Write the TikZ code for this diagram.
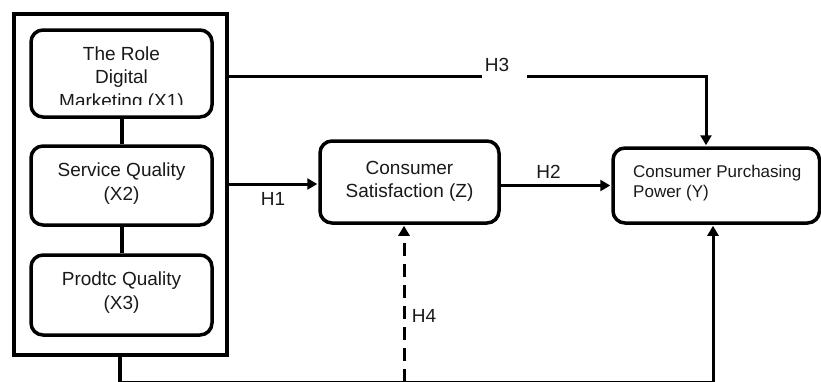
\documentclass[tikz,border=0pt]{standalone}
\usepackage{fontspec}
\setmainfont{Liberation Sans}
\usetikzlibrary{arrows.meta}
\begin{document}
\begin{tikzpicture}[x=1pt,y=-1pt,
  box/.style={draw, line width=3.5pt, rounded corners=12pt, inner sep=0pt},
  grpbox/.style={draw, line width=4pt, inner sep=0pt},
  txt/.style={font=\fontsize{19}{23.5}\selectfont, align=center, inner sep=0pt, text=black!90},
  ytxt/.style={font=\fontsize{17}{20}\selectfont, align=left, inner sep=0pt, anchor=west, text=black!90},
  hlab/.style={font=\fontsize{19}{23}\selectfont, inner sep=0pt, text=black!90},
  conn/.style={line width=3pt},
  thickconn/.style={line width=4pt},
  arr/.style={conn, -{Triangle[length=10pt,width=11pt]}, shorten >=1pt},
  darr/.style={arr, dash pattern=on 13pt off 8pt}
]
\useasboundingbox (0,0) rectangle (821,381);

% group box and inner boxes
\node[grpbox, minimum width=213pt, minimum height=341pt] (grp) at (120.5,184.5) {};
\node[box, minimum width=181pt, minimum height=87pt] (x1) at (121.5,73.5) {};
\node[box, minimum width=181pt, minimum height=79pt] (x2) at (121.5,185.5) {};
\node[box, minimum width=181pt, minimum height=80pt] (x3) at (121.5,295) {};
\begin{scope}
  \clip (30,28) rectangle (213,104.3);
  \node[txt] (x1t) at (121.5,79) {The Role\\Digital\\Marketing (X1)};
\end{scope}
\node[txt] (x2t) at (121.5,183.5) {Service Quality\\(X2)};
\node[txt] (x3t) at (121.5,292.5) {Prodtc Quality\\(X3)};

% Z and Y
\node[box, minimum width=179pt, minimum height=82pt] (z) at (409.5,182) {};
\node[txt] (zt) at (409.5,181.5) {Consumer\\Satisfaction (Z)};
\node[box, minimum width=206.5pt, minimum height=75pt] (y) at (716.25,185.5) {};
\node[ytxt] (yt) at (633,183.5) {Consumer Purchasing\\Power (Y)};

% links inside group
\draw[thickconn] (x1.south) -- (x2.north);
\draw[thickconn] (x2.south) -- (x3.north);

% coordinates
\coordinate (h3a) at (482,76);
\coordinate (h3b) at (527,76);
\coordinate (h3c) at (706,76);
\coordinate (h1a) at (227,184);
\coordinate (bus1) at (120,382.0);
\coordinate (bus2) at (404,382.0);
\coordinate (bus3) at (713,382.0);

% H3
\draw[conn] (grp.east |- h3a) -- (h3a);
\draw[arr] (h3b) -- (h3c) -- (y.north -| h3c);
\node[hlab] (lh3) at (497,65) {H3};

% H1
\draw[arr] (grp.east |- h1a) -- (z.west |- h1a);
\node[hlab] (lh1) at (273,198.5) {H1};

% H2
\draw[arr] (z.east |- y.west) -- (y.west);
\node[hlab] (lh2) at (548.5,171.5) {H2};

% bottom bus
\draw[thickconn] (grp.south -| bus1) -- (bus1);
\draw[conn] (bus1) -- (bus3);
\draw[arr] (bus3) -- (y.south -| bus3);
\draw[darr] (bus2) -- (z.south -| bus2);
\node[hlab] (lh4) at (424,316) {H4};
\end{tikzpicture}
\end{document}
